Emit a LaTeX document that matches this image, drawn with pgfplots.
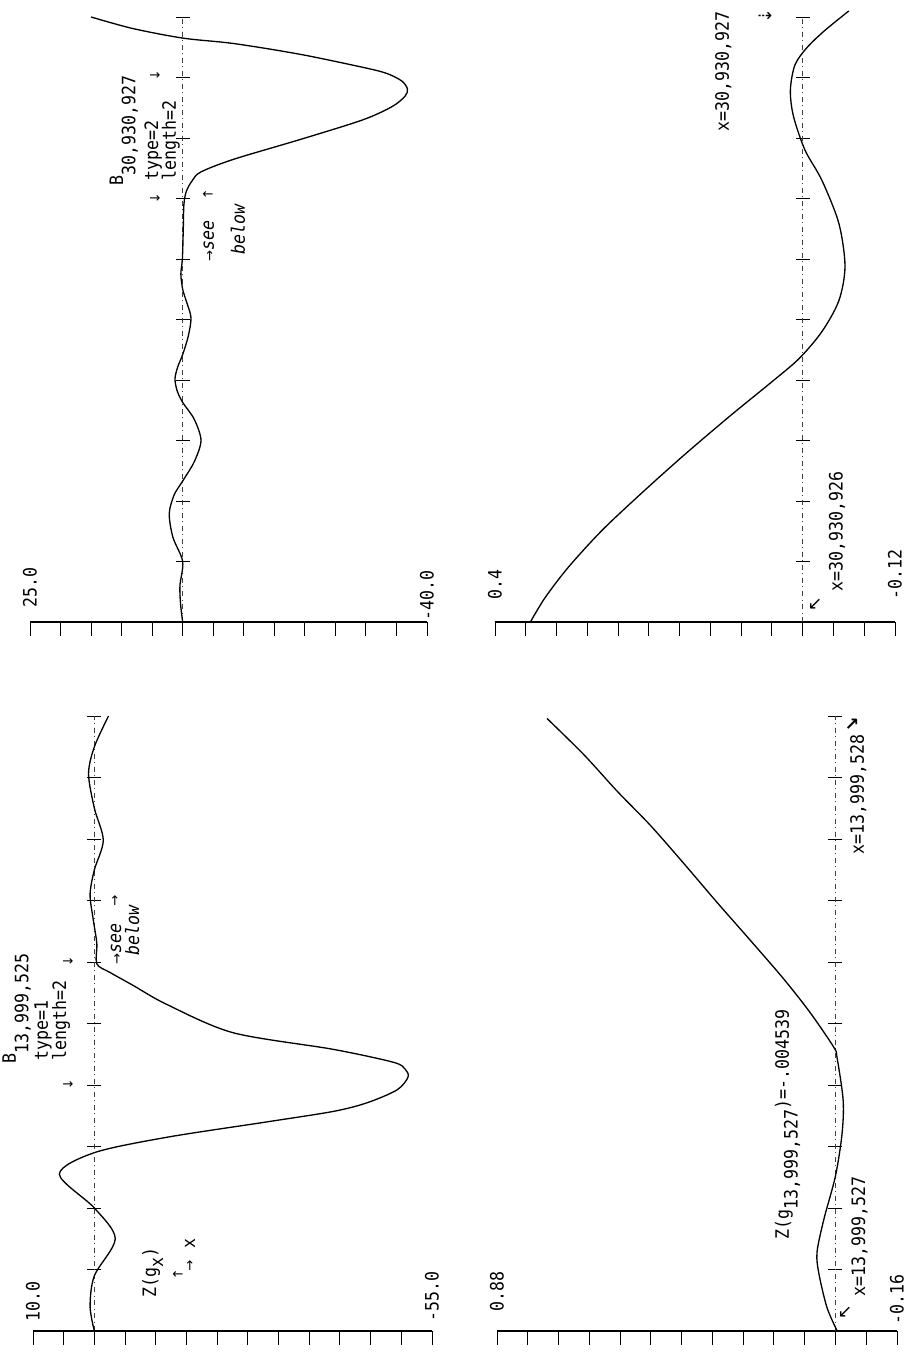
\documentclass[border=0pt]{standalone}
\usepackage{fontspec}
\setmainfont{DejaVu Sans Mono}[FakeStretch=0.9]
\newfontfamily\sym{DejaVu Sans}
\usepackage{pgfplots}
\pgfplotsset{compat=1.18}
\tikzset{
  lab/.style={rotate=90, anchor=base west, inner sep=0pt, font=\fontsize{10.5}{12}\selectfont},
  arr/.style={inner sep=0pt, font=\sym\fontsize{7.5}{8}\selectfont},
}
\pgfplotsset{
  panel/.style={scale only axis, clip=false, enlargelimits=false, x dir=reverse,
    axis x line=bottom, axis y line=middle,
    hide obscured x ticks=false, hide obscured y ticks=false,
    x axis line style={-, line width=1.0pt},
    y axis line style={-, dash dot, line width=0.4pt, black!75},
    ymin=0, ymax=10, ytick={1,...,10}, xticklabels={}, yticklabels={},
    xtick align=outside, ytick align=center, major tick length=0.28cm,
    tick style={solid, black, line width=0.55pt}},
  curve/.style={smooth, line width=0.75pt, black, mark=none},
}
\begin{document}
\begin{tikzpicture}
\path[use as bounding box] (0,0) rectangle (18.18cm,27.06cm);

% ---------------- top left ----------------
\begin{axis}[panel, at={(0.60cm,14.62cm)}, anchor=south west, width=7.94cm, height=12.10cm,
  xmin=-40, xmax=25, xtick={-40,-35,...,25}]
\addplot[curve] coordinates {(0,0) (0.35,0.3) (0.45,0.6) (0,1.0) (1.6,1.4) (2.2,1.79) (1.4,2.1) (0,2.33) (-1.9,2.65) (-3.0,3.0) (-1.9,3.35) (0,3.63) (0.9,3.82) (1.26,4.02) (0.8,4.22) (0,4.42) (-0.9,4.72) (-1.36,5.03) (-0.6,5.3) (0,5.5) (0.3,5.75) (0.05,6.0) (-0.1,6.5) (-0.2,6.9) (-0.6,7.12) (-1.6,7.3) (-3.0,7.44) (-8.4,7.65) (-19.4,7.98) (-29.5,8.3) (-34.3,8.52) (-36.4,8.69) (-36.8,8.81) (-35.9,8.94) (-33.6,9.06) (-30.3,9.15) (-19.4,9.38) (-8.45,9.56) (-0.1,9.65) (8.2,9.81) (15,10.0)};
\node[lab, anchor=west] at (axis cs:25,0.23) {25.0};
\node[lab, anchor=west] at (axis cs:-40,0.02) {-40.0};
\node[lab] at (axis cs:9.77,7.21) {B\raisebox{-7pt}{30,930,927}};
\node[lab] at (axis cs:4.04,7.29) {type=2};
\node[lab] at (axis cs:1.1,7.29) {length=2};
\node[arr] at (axis cs:4.53,6.99) {→};
\node[arr] at (axis cs:4.53,9.03) {→};
\node[lab] at (axis cs:-5.12,5.95) {{\sym\fontsize{7.5}{8}\selectfont →}\textit{see}};
\node[lab] at (axis cs:-10.2,6.07) {\textit{below}};
\node[arr] at (axis cs:-4.14,7.06) {←};
\end{axis}

% ---------------- top right ----------------
\begin{axis}[panel, at={(9.90cm,14.62cm)}, anchor=south west, width=8.00cm, height=12.10cm,
  xmin=-0.12, xmax=0.4, xtick={-0.12,-0.08,-0.04,0,0.04,0.08,0.12,0.16,0.2,0.24,0.28,0.32,0.36,0.4}]
\addplot[curve] coordinates {(0.354,0) (0.335,0.4) (0.305,0.9) (0.262,1.5) (0.212,2.1) (0.155,2.75) (0.095,3.4) (0.042,3.95) (0.005,4.35) (-0.025,4.8) (-0.047,5.31) (-0.055,5.88) (-0.047,6.59) (-0.025,7.3) (-0.003,7.8) (0.012,8.36) (0.016,8.79) (0.010,9.21) (-0.006,9.5) (-0.029,9.78) (-0.060,10.1)};
\node[lab, anchor=west] at (axis cs:0.4,0.36) {0.4};
\node[lab, anchor=west] at (axis cs:-0.12,0.36) {-0.12};
\node[lab] at (axis cs:-0.052,0.5) {x=30,930,926};
\node[arr, font=\sym\fontsize{10}{10}\selectfont] at (axis cs:-0.016,0.3) {↙};
\node[lab] at (axis cs:0.096,8.1) {x=30,930,927};
\node[arr, font=\sym\fontsize{10}{10}\selectfont] at (axis cs:0.049,10.0) {⇢};
\end{axis}

% ---------------- bottom left ----------------
\begin{axis}[panel, at={(0.66cm,0.44cm)}, anchor=south west, width=7.98cm, height=12.30cm,
  xmin=-55, xmax=10, xtick={-55,-50,...,10}]
\addplot[curve] coordinates {(0,0) (0.7,0.4) (0,0.9) (-3.4,1.5) (0,2.0) (5.7,2.55) (0,2.9) (-11.8,3.15) (-28.1,3.4) (-38.9,3.57) (-44.4,3.71) (-49.3,3.92) (-51.1,4.13) (-50.6,4.26) (-48.7,4.37) (-38.9,4.58) (-22.6,4.85) (-11.8,5.31) (-6.3,5.62) (-2.55,5.83) (-0.4,5.97) (-0.4,6.3) (0.2,6.7) (0.7,7.1) (0,7.5) (-1.45,7.98) (0,8.5) (0.95,9.06) (0,9.5) (-2.3,10.0)};
\node[lab, anchor=west] at (axis cs:10,0.15) {10.0};
\node[lab, anchor=west] at (axis cs:-55,0.15) {-55.0};
\node[lab] at (axis cs:12.77,4.35) {B\raisebox{-7pt}{13,999,525}};
\node[lab] at (axis cs:7.56,4.4) {type=1};
\node[lab] at (axis cs:4.62,4.4) {length=2};
\node[arr] at (axis cs:4.30,4.0) {→};
\node[arr] at (axis cs:4.30,6.0) {→};
\node[lab] at (axis cs:-4.34,5.95) {{\sym\fontsize{7.5}{8}\selectfont →}\textit{see}};
\node[lab] at (axis cs:-7.27,6.1) {\textit{below}};
\node[arr] at (axis cs:-3.36,7.0) {↑};
\node[lab] at (axis cs:-10.04,0.54) {Z(g\raisebox{-4pt}{x})};
\node[arr] at (axis cs:-13.62,0.91) {←};
\node[arr] at (axis cs:-15.58,1.07) {↑};
\node[lab, anchor=center] at (axis cs:-15.58,1.43) {x};
\end{axis}

% ---------------- bottom right ----------------
\begin{axis}[panel, at={(9.94cm,0.44cm)}, anchor=south west, width=8.00cm, height=12.30cm,
  xmin=-0.16, xmax=0.88, xtick={-0.16,-0.08,0,0.08,0.16,0.24,0.32,0.4,0.48,0.56,0.64,0.72,0.8,0.88}]
\addplot[curve] coordinates {(-0.0045,0) (0.022,0.38) (0.043,0.93) (0.048,1.28) (0.030,1.82) (0,2.52) (-0.017,3.2) (-0.020,3.75) (-0.004,4.45) (0.004,4.61) (0.065,5.17) (0.134,5.72) (0.221,6.35) (0.308,6.97) (0.394,7.6) (0.481,8.22) (0.568,8.78) (0.654,9.37) (0.750,9.96)};
\node[lab, anchor=west] at (axis cs:0.88,0.31) {0.88};
\node[lab, anchor=west] at (axis cs:-0.16,0.1) {-0.16};
\node[lab] at (axis cs:-0.077,0.55) {x=13,999,527};
\node[arr, font=\sym\fontsize{10}{10}\selectfont] at (axis cs:-0.025,0.3) {↙};
\node[lab] at (axis cs:-0.074,7.74) {x=13,999,528};
\node[arr, font=\sym\bfseries\fontsize{10}{10}\selectfont] at (axis cs:-0.043,9.85) {↗};
\node[lab] at (axis cs:0.121,1.49) {Z(g\raisebox{-5pt}{13,999,527})=-.004539};
\end{axis}
\end{tikzpicture}
\end{document}
